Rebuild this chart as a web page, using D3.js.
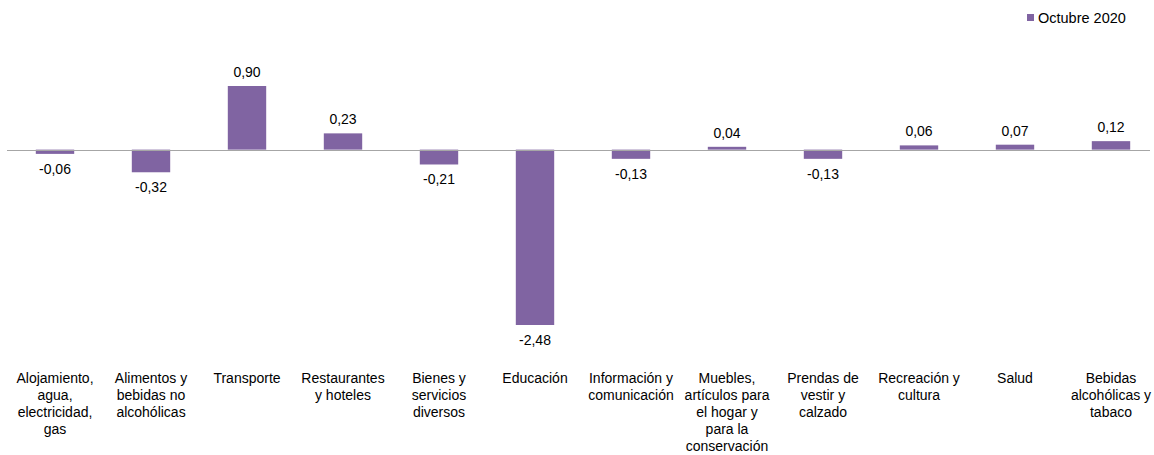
<!DOCTYPE html>
<html>
<head>
<meta charset="utf-8">
<script src="https://cdn.jsdelivr.net/npm/d3@7"></script>
<style>
  body { margin: 0; background: #fff; }
  text { font-family: "Liberation Sans", Arial, sans-serif; font-size: 14px; fill: #000; }
</style>
</head>
<body>
<div id="chart"></div>
<script>
var categories = [
  ['Alojamiento,', 'agua,', 'electricidad,', 'gas'],
  ['Alimentos y', 'bebidas no', 'alcohólicas'],
  ['Transporte'],
  ['Restaurantes', 'y hoteles'],
  ['Bienes y', 'servicios', 'diversos'],
  ['Educación'],
  ['Información y', 'comunicación'],
  ['Muebles,', 'artículos para', 'el hogar y', 'para la', 'conservación'],
  ['Prendas de', 'vestir y', 'calzado'],
  ['Recreación y', 'cultura'],
  ['Salud'],
  ['Bebidas', 'alcohólicas y', 'tabaco']
]
var values = [-0.06, -0.32, 0.90, 0.23, -0.21, -2.48, -0.13, 0.04, -0.13, 0.06, 0.07, 0.12]
var seriesName = 'Octubre 2020'

var width = 1154
var height = 455
var color = '#8064a2'

var fmt = function(v) { return d3.format('.2f')(v).replace('.', ',').replace('−', '-') }

var svg = d3.select('#chart').append('svg').attr('width', width).attr('height', height)

var x = d3.scaleBand()
  .domain(d3.range(categories.length))
  .range([7, 1159])
  .paddingInner(0.6)
  .paddingOuter(0.3)

var y = d3.scaleLinear()
  .domain([-2.48, 0.90])
  .range([325, 86])

// bars
svg.append('g').selectAll('rect')
  .data(values)
  .enter()
  .append('rect')
  .attr('x', function(d, i) { return x(i) })
  .attr('width', x.bandwidth())
  .attr('y', function(d) { return Math.min(y(d), y(0)) })
  .attr('height', function(d) { return Math.abs(y(d) - y(0)) })
  .style('fill', color)

// zero line
svg.append('line')
  .attr('x1', 7).attr('x2', 1150)
  .attr('y1', Math.round(y(0)) + 0.5).attr('y2', Math.round(y(0)) + 0.5)
  .style('stroke', '#a6a6a6')
  .style('stroke-width', 1)

// value labels
svg.append('g').selectAll('text')
  .data(values)
  .enter()
  .append('text')
  .attr('x', function(d, i) { return x(i) + x.bandwidth() / 2 })
  .attr('y', function(d) { return d >= 0 ? y(d) - 9 : y(d) + 20 })
  .attr('text-anchor', 'middle')
  .text(fmt)

// category labels
var cat = svg.append('g').selectAll('text')
  .data(categories)
  .enter()
  .append('text')
  .attr('text-anchor', 'middle')
  .attr('transform', function(d, i) { return 'translate(' + (x(i) + x.bandwidth() / 2) + ',383)' })

cat.selectAll('tspan')
  .data(function(d) { return d })
  .enter()
  .append('tspan')
  .attr('x', 0)
  .attr('y', function(d, i) { return i * 17 })
  .text(function(d) { return d })

// legend
var legend = svg.append('g').attr('transform', 'translate(1027,14)')
legend.append('rect').attr('width', 7).attr('height', 7).style('fill', color)
legend.append('text').attr('x', 11).attr('y', 8.5).style('font-size', '14.5px').text(seriesName)
</script>
</body>
</html>
